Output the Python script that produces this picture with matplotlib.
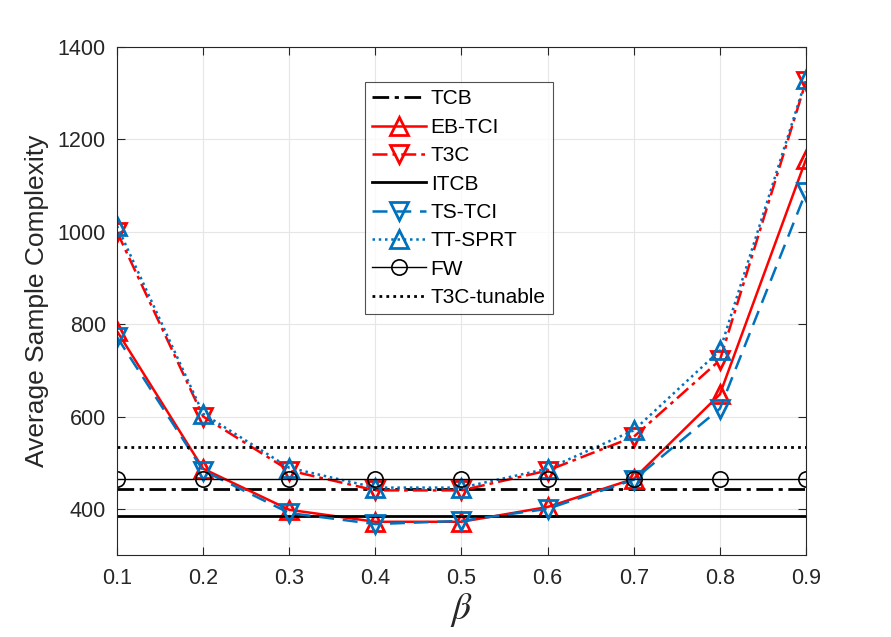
import matplotlib

matplotlib.use("Agg")
import matplotlib.pyplot as plt

plt.rcParams["font.family"] = ["Liberation Sans", "DejaVu Sans"]
plt.rcParams["mathtext.fontset"] = "stix"

beta = [0.1, 0.2, 0.3, 0.4, 0.5, 0.6, 0.7, 0.8, 0.9]
eb_tci = [785, 487, 398, 372, 372, 404, 465, 648, 1157]
t3c = [1000, 600, 483, 440, 440, 483, 556, 722, 1326]
ts_tci = [772, 483, 391, 367, 374, 400, 463, 617, 1087]
tt_sprt = [1013, 606, 489, 446, 446, 487, 570, 743, 1330]
tcb = 443
itcb = 384
fw = 465
t3c_tunable = 535

RED = "#FF0000"
BLUE = "#0072BD"

fig = plt.figure(figsize=(8.91, 6.37), dpi=100)
ax = fig.add_axes([0.1313, 0.1287, 0.7733, 0.7973])

n = len(beta)
mk = dict(ms=13, mfc="none", mew=2)
ax.plot(beta, [tcb] * n, color="black", lw=2, ls=(0, (6, 2, 1.5, 2)), label="TCB")
ax.plot(beta, eb_tci, color=RED, lw=1.8, marker="^", label="EB-TCI", **mk)
ax.plot(beta, t3c, color=RED, lw=1.8, ls=(0, (6, 2, 1.5, 2)), marker="v", label="T3C", **mk)
ax.plot(beta, [itcb] * n, color="black", lw=2, label="ITCB")
ax.plot(beta, ts_tci, color=BLUE, lw=1.8, ls=(0, (6, 3.5)), marker="v", label="TS-TCI", **mk)
ax.plot(beta, tt_sprt, color=BLUE, lw=1.8, ls=(0, (1, 1.5)), marker="^", label="TT-SPRT", **mk)
ax.plot(beta, [fw] * n, color="black", lw=1, marker="o", ms=11, mfc="none", mew=1.2, label="FW")
ax.plot(beta, [t3c_tunable] * n, color="black", lw=2, ls=(0, (1, 1.5)), label="T3C-tunable")

ax.set_xlim(0.1, 0.9)
ax.set_ylim(300, 1400)
ax.set_xticks(beta)
ax.set_xticklabels([f"{b:.1f}" for b in beta])
ax.set_yticks([400, 600, 800, 1000, 1200, 1400])
ax.tick_params(direction="in", top=True, right=True, labelsize=15.5, length=6,
               color="#262626", labelcolor="#262626")
ax.tick_params(axis="x", pad=9)
ax.tick_params(axis="y", pad=8)
for s in ax.spines.values():
    s.set_color("#262626")
    s.set_linewidth(0.8)
ax.grid(True, color="#e6e6e6", lw=0.8)
ax.set_axisbelow(True)

ax.set_xlabel(r"$\beta$", fontsize=27, labelpad=2, color="#262626")
ax.set_ylabel("Average Sample Complexity", fontsize=19, labelpad=6, color="#262626")

leg = ax.legend(loc="upper left", bbox_to_anchor=(0.36, 0.931), borderaxespad=0, fontsize=15,
                handlelength=2.6, frameon=True, fancybox=False, edgecolor="#262626",
                borderpad=0.35, labelspacing=0.45, handletextpad=0.2)
leg.get_frame().set_linewidth(0.8)

fig.savefig("out.png", dpi=100)
